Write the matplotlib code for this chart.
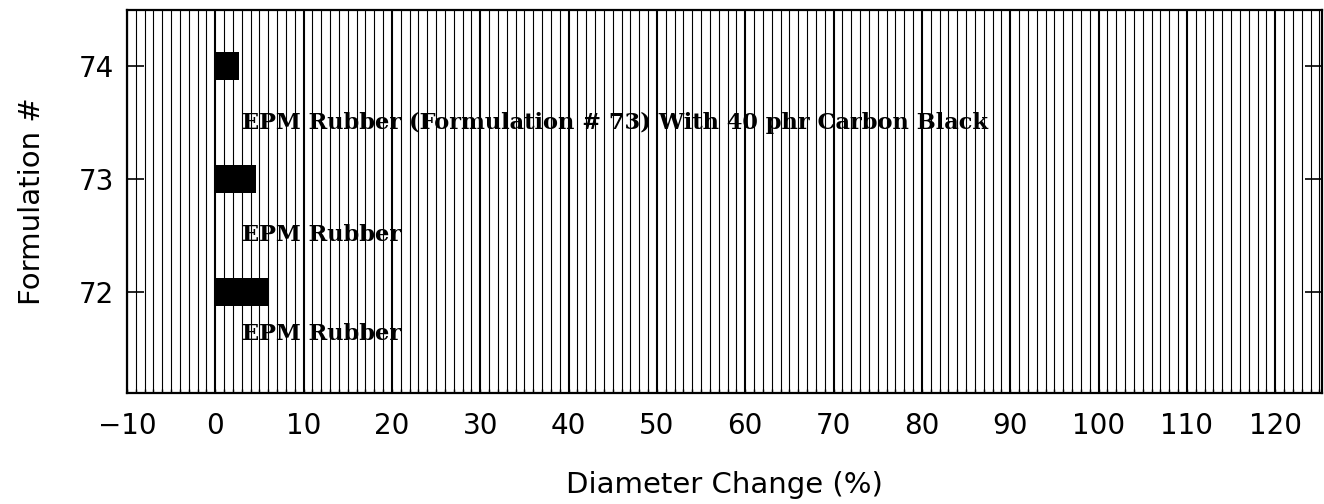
import numpy as np
import matplotlib
matplotlib.use("Agg")
import matplotlib.pyplot as plt
from matplotlib.ticker import MultipleLocator

# data
formulations = [72, 73, 74]
diameter_change = [6.0, 4.6, 2.7]
bar_labels = ["EPM Rubber",
              "EPM Rubber",
              "EPM Rubber (Formulation # 73) With 40 phr Carbon Black"]
label_y = [71.62, 72.50, 73.50]
x_ticks = list(range(-10, 121, 10))
y_ticks = [72, 73, 74]

fig = plt.figure(figsize=(13.24, 5.04), dpi=100)
ax = fig.add_axes([0.0959, 0.2202, 0.9026, 0.7600])

# dense vertical grid, heavier every 10
ax.xaxis.set_major_locator(MultipleLocator(10))
ax.xaxis.set_minor_locator(MultipleLocator(1))
ax.grid(which='minor', axis='x', color='black', lw=0.8, zorder=1)
ax.grid(which='major', axis='x', color='black', lw=1.5, zorder=1)
ax.set_axisbelow(True)

ax.barh(formulations, diameter_change, height=0.25, left=0,
        color='black', zorder=3)

for y, txt in zip(label_y, bar_labels):
    ax.text(3.0, y, txt, fontsize=16.2, fontweight='bold', family='DejaVu Serif',
            va='center', ha='left', zorder=4)

ax.set_xlim(-10, 125.3)
ax.set_ylim(71.1, 74.5)
ax.set_xticks(x_ticks)
ax.set_yticks(y_ticks)

ax.tick_params(axis='y', which='major', direction='in', length=12, width=1.2,
               left=True, right=True, labelsize=20, pad=9)
ax.tick_params(axis='x', which='both', direction='in', length=3, width=1.0,
               bottom=True, top=False, labelsize=20, pad=14)
for s in ax.spines.values():
    s.set_linewidth(1.6)

ax.set_xlabel('Diameter Change (%)', fontsize=21, labelpad=22)
ax.set_ylabel('Formulation #', fontsize=21, labelpad=24)

fig.savefig('out.png', dpi=100)
